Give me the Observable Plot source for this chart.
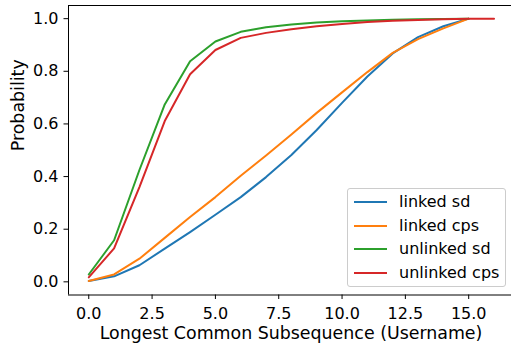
<!DOCTYPE html>
<html>
<head>
<meta charset="utf-8">
<script src="https://cdn.jsdelivr.net/npm/d3@7"></script>
<script src="https://cdn.jsdelivr.net/npm/@observablehq/plot@0.6"></script>
<style>
  html, body { margin: 0; padding: 0; background: #fff; }
  #chart { position: relative; width: 511px; height: 349px; font-family: "DejaVu Sans", sans-serif; }
  #legend {
    position: absolute; left: 347px; top: 188px; width: 157px; height: 97px;
    border: 1px solid #cccccc; border-radius: 3px; background: rgba(255,255,255,0.8);
    box-sizing: content-box;
  }
  .item { position: absolute; left: 0; height: 20px; font-size: 16px; color: #000; }
  .item .swatch { position: absolute; left: 6px; width: 33px; height: 2px; top: 9px; }
  .item .label { position: absolute; left: 51px; top: 0; line-height: 20px; white-space: nowrap; }
</style>
</head>
<body>
<div id="chart"></div>
<script>
// Probability by length of the longest common subsequence of usernames
const linkedSd    = [0.003, 0.021, 0.063, 0.126, 0.189, 0.255, 0.322, 0.398, 0.482, 0.577, 0.680, 0.780, 0.868, 0.930, 0.971, 1.000];
const linkedCps   = [0.003, 0.028, 0.088, 0.167, 0.246, 0.322, 0.403, 0.480, 0.560, 0.642, 0.720, 0.797, 0.870, 0.922, 0.963, 1.000];
const unlinkedSd  = [0.028, 0.158, 0.425, 0.674, 0.838, 0.913, 0.950, 0.967, 0.978, 0.985, 0.990, 0.993, 0.996, 0.998, 0.999, 1.000];
const unlinkedCps = [0.017, 0.127, 0.360, 0.611, 0.789, 0.881, 0.927, 0.946, 0.960, 0.971, 0.980, 0.987, 0.992, 0.995, 0.998, 1.000, 1.000];

const seriesNames  = ["linked sd", "linked cps", "unlinked sd", "unlinked cps"];
const seriesColors = ["#1f77b4", "#ff7f0e", "#2ca02c", "#d62728"];
const xTicks = [0, 2.5, 5, 7.5, 10, 12.5, 15];
const yTicks = [0, 0.2, 0.4, 0.6, 0.8, 1.0];
const xLabel = "Longest Common Subsequence (Username)";
const yLabel = "Probability";

const seriesValues = [linkedSd, linkedCps, unlinkedSd, unlinkedCps];
const rows = seriesValues.flatMap((vals, k) =>
  vals.map((v, i) => ({x: i, y: v, series: seriesNames[k]})));

const xDomain = [-0.8, 16.69];
const yDomain = [-0.05, 1.05];
const titleSize = 17.4;

const plot = Plot.plot({
  width: 511,
  height: 349,
  marginLeft: 68,
  marginRight: 0,
  marginTop: 5,
  marginBottom: 54.5,
  style: {fontFamily: "DejaVu Sans, sans-serif", fontSize: "16px", color: "#000", background: "#fff"},
  x: {domain: xDomain},
  y: {domain: yDomain},
  color: {domain: seriesNames, range: seriesColors},
  marks: [
    Plot.line(rows, {x: "x", y: "y", z: "series", stroke: "series", strokeWidth: 2}),
    Plot.ruleX([xDomain[0]], {stroke: "#000", strokeWidth: 1}),
    Plot.ruleY(yDomain, {stroke: "#000", strokeWidth: 1}),
    Plot.axisX({ticks: xTicks, tickFormat: d => d.toFixed(1), tickSize: 4.5, tickPadding: 8, fontSize: 16, label: null, stroke: "#000"}),
    Plot.axisY({ticks: yTicks, tickFormat: d => d.toFixed(1), tickSize: 4.5, tickPadding: 5.5, fontSize: 16, label: null, stroke: "#000"}),
    Plot.text([xLabel], {frameAnchor: "bottom", dx: 1, dy: 44, text: d => d, fontSize: titleSize, fill: "#000"}),
    Plot.text([yLabel], {frameAnchor: "left", dx: -50.5, dy: 1, rotate: -90, text: d => d, fontSize: titleSize, fill: "#000"})
  ]
});

const chart = document.getElementById("chart");
chart.appendChild(plot);

// legend box in the lower right of the axes
const legend = document.createElement("div");
legend.id = "legend";
seriesNames.forEach((name, k) => {
  const item = document.createElement("div");
  item.className = "item";
  item.style.top = (3 + k * 23.5) + "px";
  const sw = document.createElement("div");
  sw.className = "swatch";
  sw.style.background = seriesColors[k];
  const lb = document.createElement("div");
  lb.className = "label";
  lb.textContent = name;
  item.appendChild(sw);
  item.appendChild(lb);
  legend.appendChild(item);
});
chart.appendChild(legend);
</script>
</body>
</html>
